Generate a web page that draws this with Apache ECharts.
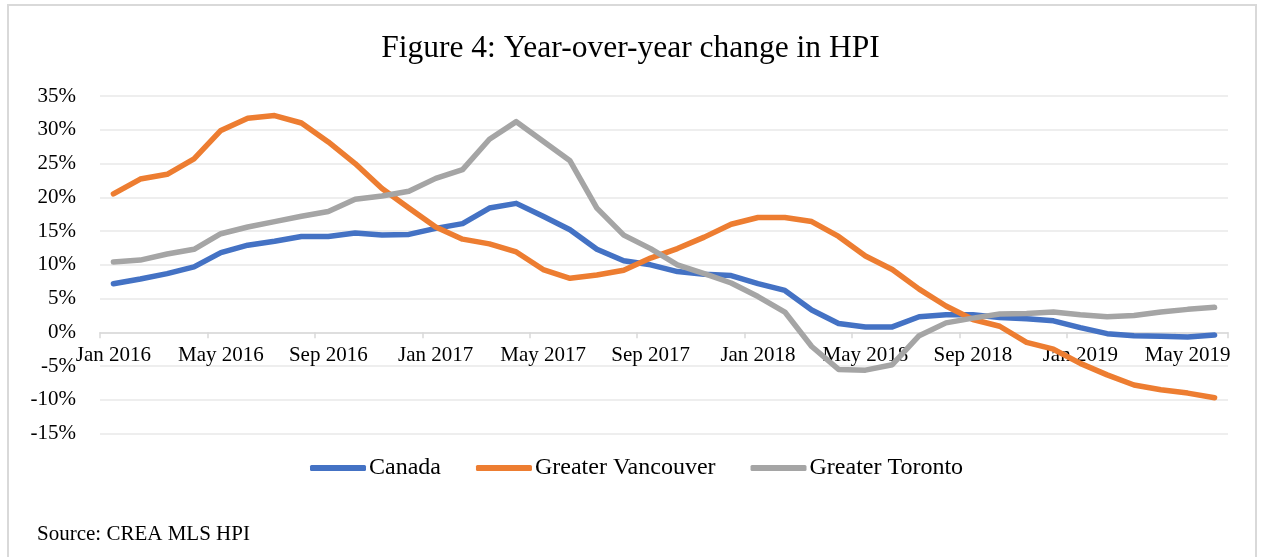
<!DOCTYPE html>
<html>
<head>
<meta charset="utf-8">
<script src="https://cdn.jsdelivr.net/npm/echarts@6/dist/echarts.min.js"></script>
<style>
html,body{margin:0;padding:0;background:#fff;}
#chart{width:1261px;height:557px;}
</style>
</head>
<body>
<div id="chart"></div>
<script>
const months = [
  'Jan 2016','Feb 2016','Mar 2016','Apr 2016','May 2016','Jun 2016','Jul 2016','Aug 2016','Sep 2016','Oct 2016','Nov 2016','Dec 2016',
  'Jan 2017','Feb 2017','Mar 2017','Apr 2017','May 2017','Jun 2017','Jul 2017','Aug 2017','Sep 2017','Oct 2017','Nov 2017','Dec 2017',
  'Jan 2018','Feb 2018','Mar 2018','Apr 2018','May 2018','Jun 2018','Jul 2018','Aug 2018','Sep 2018','Oct 2018','Nov 2018','Dec 2018',
  'Jan 2019','Feb 2019','Mar 2019','Apr 2019','May 2019','Jun 2019'
];
const canada = [7.2,7.9,8.7,9.7,11.8,12.9,13.5,14.2,14.2,14.7,14.4,14.5,15.4,16.1,18.4,19.1,17.2,15.2,12.3,10.6,10.0,9.0,8.6,8.4,7.2,6.2,3.3,1.3,0.8,0.8,2.3,2.6,2.6,2.2,2.0,1.7,0.7,-0.2,-0.5,-0.6,-0.7,-0.4];
const vancouver = [20.5,22.7,23.4,25.7,29.9,31.7,32.1,31.0,28.2,25.0,21.3,18.4,15.6,13.8,13.1,11.9,9.3,8.0,8.5,9.2,11.0,12.4,14.1,16.0,17.0,17.0,16.4,14.2,11.3,9.3,6.4,3.9,1.9,0.9,-1.5,-2.5,-4.6,-6.3,-7.8,-8.5,-9.0,-9.7];
const toronto = [10.4,10.7,11.6,12.3,14.6,15.6,16.4,17.2,17.9,19.7,20.2,20.9,22.8,24.1,28.6,31.2,28.3,25.4,18.4,14.4,12.4,10.0,8.7,7.3,5.3,3.0,-2.1,-5.5,-5.6,-4.8,-0.5,1.4,2.1,2.7,2.8,3.0,2.6,2.3,2.5,3.0,3.4,3.7];
const seriesNames = ['Canada','Greater Vancouver','Greater Toronto'];
const yMin = -15, yMax = 35, yStep = 5;
const titleText = 'Figure 4: Year-over-year change in HPI';
const sourceText = 'Source: CREA MLS HPI';

const FONT = '"Liberation Serif", "Times New Roman", serif';
const chart = echarts.init(document.getElementById('chart'), null, {renderer:'canvas'});
const colors = ['#4472C4','#ED7D31','#A5A5A5'];
const dataSets = [canada, vancouver, toronto];

const gridTop = 96, gridBottom = 123.4, H = 557;
const gridH = H - gridTop - gridBottom;
// move the category axis up to the zero line
const zeroOffset = -gridH * (0 - yMin) / (yMax - yMin);

chart.setOption({
  animation: false,
  backgroundColor: '#fff',
  color: colors,
  textStyle: {fontFamily: FONT, color: '#000'},
  title: {
    text: titleText,
    left: 'center',
    top: 28,
    textStyle: {fontFamily: FONT, fontSize: 31.5, fontWeight: 'normal', color: '#000'}
  },
  graphic: [
    {type:'rect', shape:{x:8, y:5, width:1248, height:560}, style:{fill:'none', stroke:'#d9d9d9', lineWidth:2}, silent:true},
    {type:'text', left:37, top:524, style:{text: sourceText, font: '21px ' + FONT, fill:'#000'}}
  ],
  legend: {
    data: seriesNames,
    top: 456,
    left: 310,
    padding: 0,
    itemWidth: 56,
    itemHeight: 6,
    itemGap: 35,
    icon: 'roundRect',
    textStyle: {fontFamily: FONT, fontSize: 24, color: '#000', padding:[0,0,0,-2]}
  },
  grid: {left: 100, right: 33, top: gridTop, bottom: gridBottom, containLabel: false},
  xAxis: {
    type: 'category',
    data: months,
    boundaryGap: true,
    offset: zeroOffset,
    axisLine: {onZero: false, lineStyle: {color: '#d9d9d9', width: 1.5}},
    axisTick: {show: true, interval: 3, length: 6, lineStyle: {color: '#d9d9d9', width: 1.5}},
    axisLabel: {interval: 3, margin: 13, fontFamily: FONT, fontSize: 21, color: '#000'},
    splitLine: {show: false}
  },
  yAxis: {
    type: 'value',
    min: yMin, max: yMax, interval: yStep,
    axisLine: {show: false},
    axisTick: {show: false},
    axisLabel: {formatter: '{value}%', margin: 24, fontFamily: FONT, fontSize: 21, color: '#000'},
    splitLine: {lineStyle: {color: '#e8e8e8', width: 1.5}}
  },
  series: seriesNames.map((n, i) => ({
    name: n,
    type: 'line',
    data: dataSets[i],
    symbol: 'none',
    smooth: false,
    z: 3,
    lineStyle: {width: 5.5, color: colors[i], cap: 'round', join: 'round'},
    itemStyle: {color: colors[i]}
  }))
});
</script>
</body>
</html>
